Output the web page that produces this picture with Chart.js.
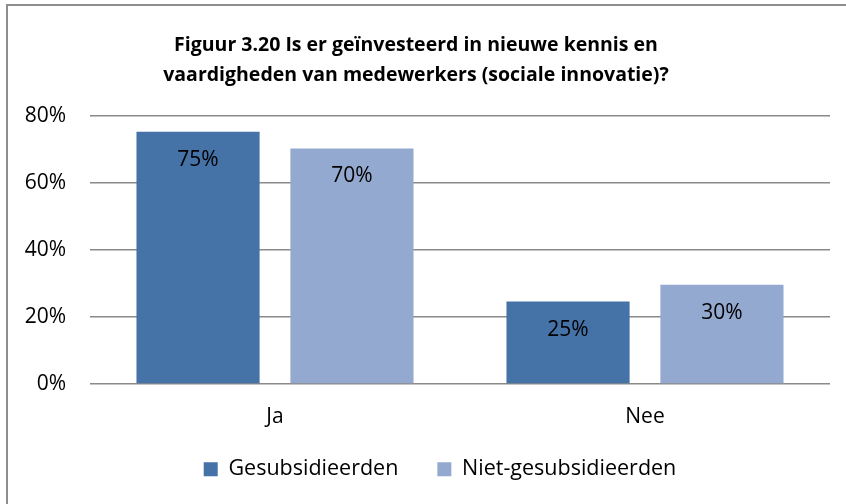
<!DOCTYPE html>
<html>
<head>
<meta charset="utf-8">
<script src="https://cdn.jsdelivr.net/npm/chart.js@4.4.0/dist/chart.umd.min.js"></script>
<style>
  html, body { margin: 0; padding: 0; background: #fff; overflow: hidden; }
  #wrap { position: relative; width: 846px; height: 504px; overflow: hidden; }
  #frame { position: absolute; left: 6px; top: 4px; width: 900px; height: 600px;
           border-left: 2px solid #8e8e8e; border-top: 2px solid #8e8e8e; }
  canvas { position: absolute; left: 0; top: 0; }
</style>
</head>
<body>
<div id="wrap">
  <div id="frame"></div>
  <canvas id="chart" width="846" height="518"></canvas>
</div>
<script>
const categories = ['Ja', 'Nee'];
const gesubsidieerden = [75.3, 24.6];
const nietGesubsidieerden = [70.3, 29.6];
const yTicks = [0, 20, 40, 60, 80];

const FONT = 'Open Sans';

// value labels inside the top of each bar
const barLabels = {
  id: 'barLabels',
  afterDatasetsDraw(chart) {
    const ctx = chart.ctx;
    ctx.save();
    ctx.font = '21px "' + FONT + '"';
    ctx.fillStyle = '#000';
    ctx.textAlign = 'center';
    ctx.textBaseline = 'middle';
    chart.data.datasets.forEach((ds, i) => {
      chart.getDatasetMeta(i).data.forEach((bar, j) => {
        ctx.fillText(Math.round(ds.data[j]) + '%', bar.x, bar.y + 28);
      });
    });
    ctx.restore();
  }
};

// nudge the legend up closer to the axis labels, a bit to the right
const legendNudge = {
  id: 'legendNudge',
  beforeDraw(chart) {
    const l = chart.legend;
    l.top -= 28; l.bottom -= 28;
    l.left += 24; l.right += 24;
  }
};

new Chart(document.getElementById('chart'), {
  type: 'bar',
  data: {
    labels: categories,
    datasets: [
      { label: 'Gesubsidieerden', data: gesubsidieerden, backgroundColor: '#4572A7' },
      { label: 'Niet-gesubsidieerden', data: nietGesubsidieerden, backgroundColor: '#93A9CF' }
    ]
  },
  options: {
    responsive: false,
    animation: false,
    layout: { padding: { left: 2, right: 16, top: 0, bottom: 0 } },
    datasets: { bar: { categoryPercentage: 0.832, barPercentage: 0.8 } },
    plugins: {
      title: {
        display: true,
        text: ['Figuur 3.20 Is er geïnvesteerd in nieuwe kennis en',
               'vaardigheden van medewerkers (sociale innovatie)?'],
        color: '#000',
        font: { family: FONT, size: 19.5, weight: 'bold', lineHeight: 30 / 19.5 },
        padding: { top: 30, bottom: 26 }
      },
      legend: {
        position: 'bottom',
        labels: {
          boxWidth: 14, boxHeight: 14, padding: 39, color: '#000',
          font: { family: FONT, size: 21.5 }
        }
      },
      tooltip: { enabled: false }
    },
    scales: {
      x: {
        grid: { display: false, drawTicks: false },
        border: { display: false },
        ticks: { color: '#000', font: { family: FONT, size: 21 }, padding: 20 },
        afterFit(scale) { scale.height = 63.5; }
      },
      y: {
        min: 0, max: 80,
        afterBuildTicks(scale) { scale.ticks = yTicks.map(v => ({ value: v })); },
        grid: { color: '#8a8a8a', lineWidth: 1.5, drawTicks: false },
        border: { display: false },
        ticks: { color: '#000', font: { family: FONT, size: 21 }, padding: 24,
                 callback: v => v + '%' },
        afterFit(scale) { scale.width = 88; }
      }
    }
  },
  plugins: [barLabels, legendNudge]
});
</script>
</body>
</html>
